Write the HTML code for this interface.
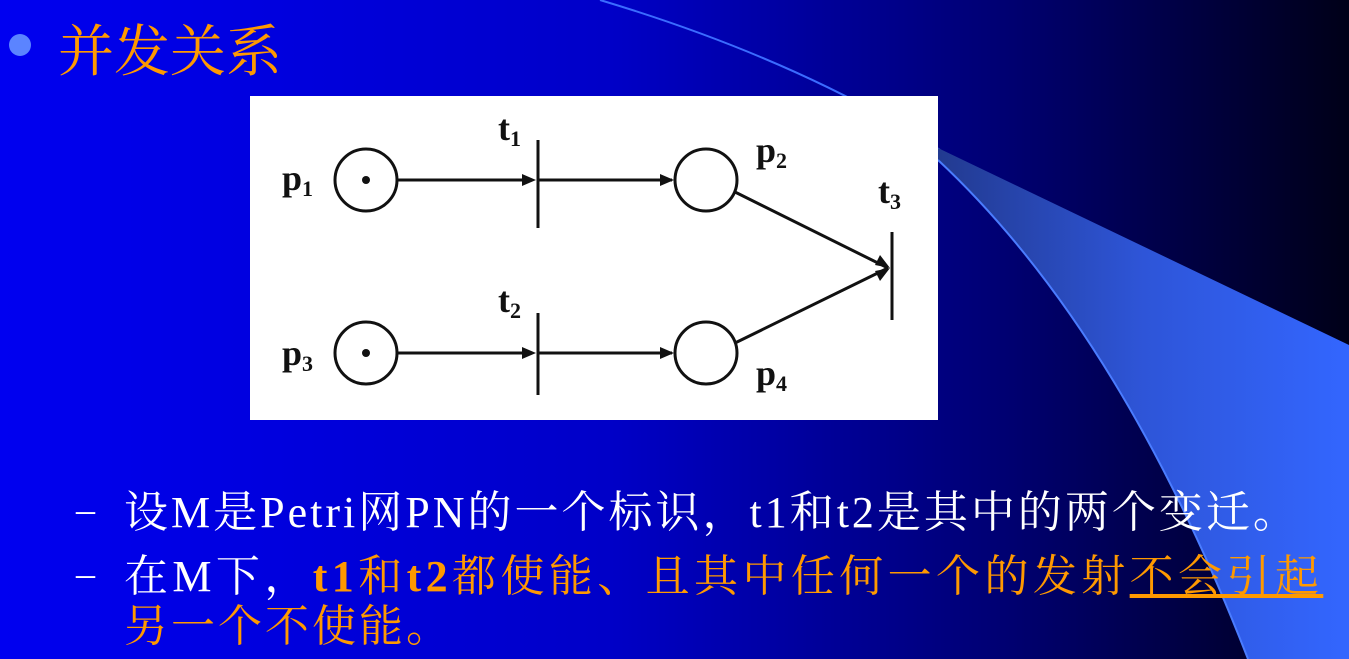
<!DOCTYPE html>
<html><head><meta charset="utf-8"><style>
body{margin:0;width:1349px;height:659px;overflow:hidden;position:relative;font-family:"Liberation Serif","Noto Serif CJK SC",serif;}
.t{position:absolute;white-space:nowrap;}
</style></head><body>
<svg width="1349" height="659" style="position:absolute;left:0;top:0">
<defs>
<linearGradient id="bg" x1="0" x2="1" y1="0" y2="0">
<stop offset="0" stop-color="#0000f0"/><stop offset="0.45" stop-color="#0000c8"/><stop offset="0.75" stop-color="#000070"/><stop offset="1" stop-color="#000018"/>
</linearGradient>
<linearGradient id="wg" x1="0" x2="1" y1="0" y2="0">
<stop offset="0" stop-color="#223a90"/><stop offset="0.5" stop-color="#2e55d8"/><stop offset="1" stop-color="#3366ff"/>
</linearGradient>
</defs>
<rect width="1349" height="659" fill="url(#bg)"/>
<path d="M600,0 Q800,60 940,150" stroke="#3b6cff" stroke-width="2" fill="none"/>
<path d="M938,148 L1349,345 L1349,659 L1248,659 Q1120,330 938,160 Z" fill="url(#wg)"/>
<path d="M938,160 Q1120,330 1248,659" stroke="#4a7cff" stroke-width="2" fill="none"/>
<circle cx="20" cy="45" r="11" fill="#5b84ff"/>
<rect x="250" y="96" width="688" height="324" fill="#fff"/>
<g stroke="#111" stroke-width="3" fill="none">
<circle cx="366" cy="180" r="31"/><circle cx="366" cy="353" r="31"/>
<circle cx="706" cy="180" r="31"/><circle cx="706" cy="353" r="31"/>
<line x1="397" y1="180" x2="530" y2="180"/><line x1="538" y1="180" x2="672" y2="180"/>
<line x1="397" y1="353" x2="530" y2="353"/><line x1="538" y1="353" x2="672" y2="353"/>
<line x1="538" y1="140" x2="538" y2="228"/><line x1="538" y1="313" x2="538" y2="395"/>
<line x1="892" y1="232" x2="892" y2="320"/>
<line x1="735" y1="192" x2="888" y2="268"/><line x1="735" y1="343" x2="888" y2="268"/>
</g>
<g fill="#111">
<circle cx="366" cy="180" r="4"/><circle cx="366" cy="353" r="4"/>
<path d="M536,180 l-14,-6 v12z"/><path d="M674,180 l-14,-6 v12z"/>
<path d="M536,353 l-14,-6 v12z"/><path d="M674,353 l-14,-6 v12z"/>
<path d="M890,268 l-15,-3 l5,-10z"/><path d="M890,268 l-15,3 l5,10z"/>
</g>
<g font-family="Liberation Serif,serif" fill="#111" font-size="36" font-weight="bold">
<text x="282" y="190">p<tspan font-size="22" dy="6">1</tspan></text>
<text x="282" y="365">p<tspan font-size="22" dy="6">3</tspan></text>
<text x="756" y="162">p<tspan font-size="22" dy="6">2</tspan></text>
<text x="756" y="385">p<tspan font-size="22" dy="6">4</tspan></text>
<text x="498" y="140">t<tspan font-size="22" dy="6">1</tspan></text>
<text x="498" y="312">t<tspan font-size="22" dy="6">2</tspan></text>
<text x="878" y="203">t<tspan font-size="22" dy="6">3</tspan></text>
</g>
</svg>
<div class="t" style="left:58px;top:8px;font-size:56px;color:#ff9900;">并发关系</div>
<div class="t" style="left:76px;top:488px;font-size:38px;color:#fff;">–</div>
<div class="t" style="left:124px;top:476px;font-size:44px;letter-spacing:3px;color:#fff;">设M是Petri网PN的一个标识，t1和t2是其中的两个变迁。</div>
<div class="t" style="left:76px;top:552px;font-size:38px;color:#fff;">–</div>
<div class="t" style="left:124px;top:540px;font-size:44px;letter-spacing:4.4px;color:#fff;">在M下，<span style="color:#ff9900"><b>t1</b>和<b>t2</b>都使能、且其中任何一个的发射<u>不会引起</u></span></div>
<div class="t" style="left:124px;top:590px;font-size:44px;letter-spacing:3px;color:#ff9900;">另一个不使能。</div>
</body></html>
